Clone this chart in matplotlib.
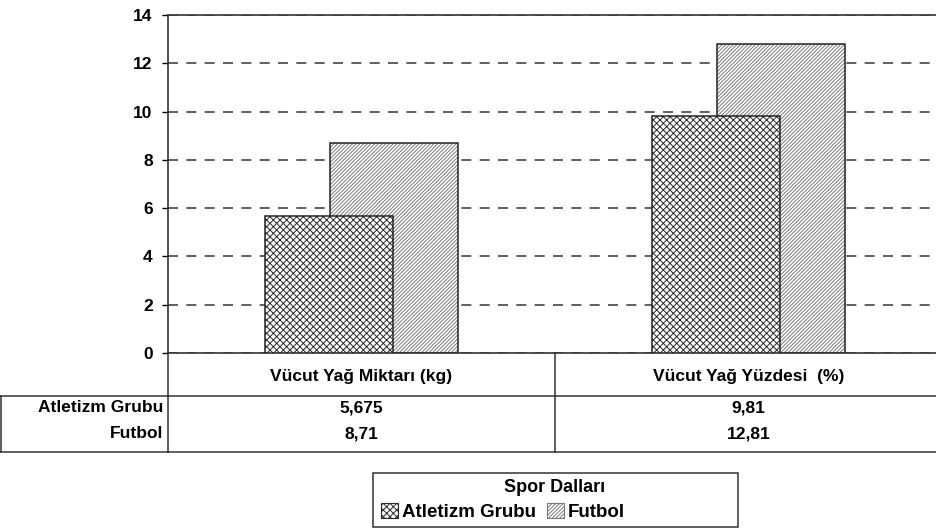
import numpy as np
import matplotlib.pyplot as plt
import matplotlib.transforms as mtransforms
from matplotlib.lines import Line2D
from matplotlib.patches import Rectangle

plt.rcParams['font.family'] = ['Liberation Sans', 'DejaVu Sans']
plt.rcParams['font.weight'] = 'bold'
plt.rcParams['hatch.linewidth'] = 0.7

# Veriler
kategoriler = ['Vücut Yağ Miktarı (kg)', 'Vücut Yağ Yüzdesi  (%)']
atletizm = [5.675, 9.81]
futbol = [8.71, 12.81]
etiket_atletizm = ['5,675', '9,81']
etiket_futbol = ['8,71', '12,81']
seri_adlari = ['Atletizm Grubu', 'Futbol']

W, H = 936, 532
fig = plt.figure(figsize=(W / 100, H / 100), dpi=100)
ax = fig.add_axes([168 / W, 1 - 353 / H, 774 / W, 338 / H])

x = np.arange(len(kategoriler))
genislik = 0.331
kayma = 0.084

# tarama rengi edgecolor'dan geliyor; kenar çizgisi ayrı bir çubukla
b2 = ax.bar(x + kayma, futbol, genislik, color='white', edgecolor='#7a7a7a',
            hatch='/////////', linewidth=0, zorder=2, label=seri_adlari[1])
ax.bar(x + kayma, futbol, genislik, fill=False, edgecolor='#222222', linewidth=1.1, zorder=2.1)
b1 = ax.bar(x - kayma, atletizm, genislik, color='white', edgecolor='#2a2a2a',
            hatch='xxxxx', linewidth=0, zorder=3, label=seri_adlari[0])
ax.bar(x - kayma, atletizm, genislik, fill=False, edgecolor='#222222', linewidth=1.1, zorder=3.1)

ax.set_xlim(-0.5, 1.5)
ax.set_ylim(0, 14)
ax.set_yticks(np.arange(0, 15, 2))
ax.set_xticks([])
ax.tick_params(axis='y', labelsize=12.5, length=4, width=1, pad=7)
for lbl in ax.get_yticklabels():
    lbl.set_fontweight('bold')
ax.yaxis.grid(True, linestyle=(0, (6, 5)), color='#444444', linewidth=1.2, zorder=1)
ax.set_axisbelow(True)
for s in ax.spines.values():
    s.set_color('#333333')
    s.set_linewidth(1.2)

# Veri tablosu
tr = mtransforms.blended_transform_factory(ax.transData, fig.transFigure)
y_ust = 1 - 353 / H
y_baslik = 1 - 396 / H
y_alt = 1 - 452 / H
y_sat = [1 - 408 / H, 1 - 434 / H]


def cizgi(xs, ys, t):
    fig.add_artist(Line2D(xs, ys, transform=t, color='#333333', linewidth=1.1))


cizgi([-0.5, 1.6], [y_baslik, y_baslik], tr)
cizgi([-0.5, 1.6], [y_alt, y_alt], tr)
cizgi([0.5, 0.5], [y_ust, y_alt], tr)
cizgi([-0.5, -0.5], [y_ust, y_alt], tr)
cizgi([0.5 / W, 0.5 / W], [y_baslik, y_alt], fig.transFigure)
cizgi([0, 168 / W], [y_baslik, y_baslik], fig.transFigure)
cizgi([0, 168 / W], [y_alt, y_alt], fig.transFigure)

for i, k in enumerate(kategoriler):
    fig.text(x[i], 1 - 377 / H, k, transform=tr, ha='center', va='center', fontsize=12.5)
    fig.text(x[i], y_sat[0], etiket_atletizm[i], transform=tr, ha='center', va='center', fontsize=12.5)
    fig.text(x[i], y_sat[1], etiket_futbol[i], transform=tr, ha='center', va='center', fontsize=12.5)
for j, ad in enumerate(seri_adlari):
    fig.text(163 / W, y_sat[j], ad, ha='right', va='center', fontsize=12.5)

# Lejant: çerçeve ve başlık ayrı çiziliyor
fig.add_artist(Rectangle((373 / W, 1 - 527 / H), 365 / W, 54 / H, transform=fig.transFigure,
                         facecolor='white', edgecolor='#333333', linewidth=1.1))
fig.text(555 / W, 1 - 488 / H, 'Spor Dalları', ha='center', va='center', fontsize=13)
leg = fig.legend(handles=[b1, b2], labels=seri_adlari,
                 loc='center left', bbox_to_anchor=(368 / W, 1 - 512 / H), ncol=2,
                 frameon=False, fontsize=13.5,
                 handlelength=0.9, handleheight=0.8, handletextpad=0.2,
                 columnspacing=0.6, borderpad=0.2)
for h in leg.legend_handles:
    h.set_linewidth(0.8)
for t in leg.get_texts():
    t.set_fontweight('bold')

fig.savefig('out.png', dpi=100, facecolor='white')
